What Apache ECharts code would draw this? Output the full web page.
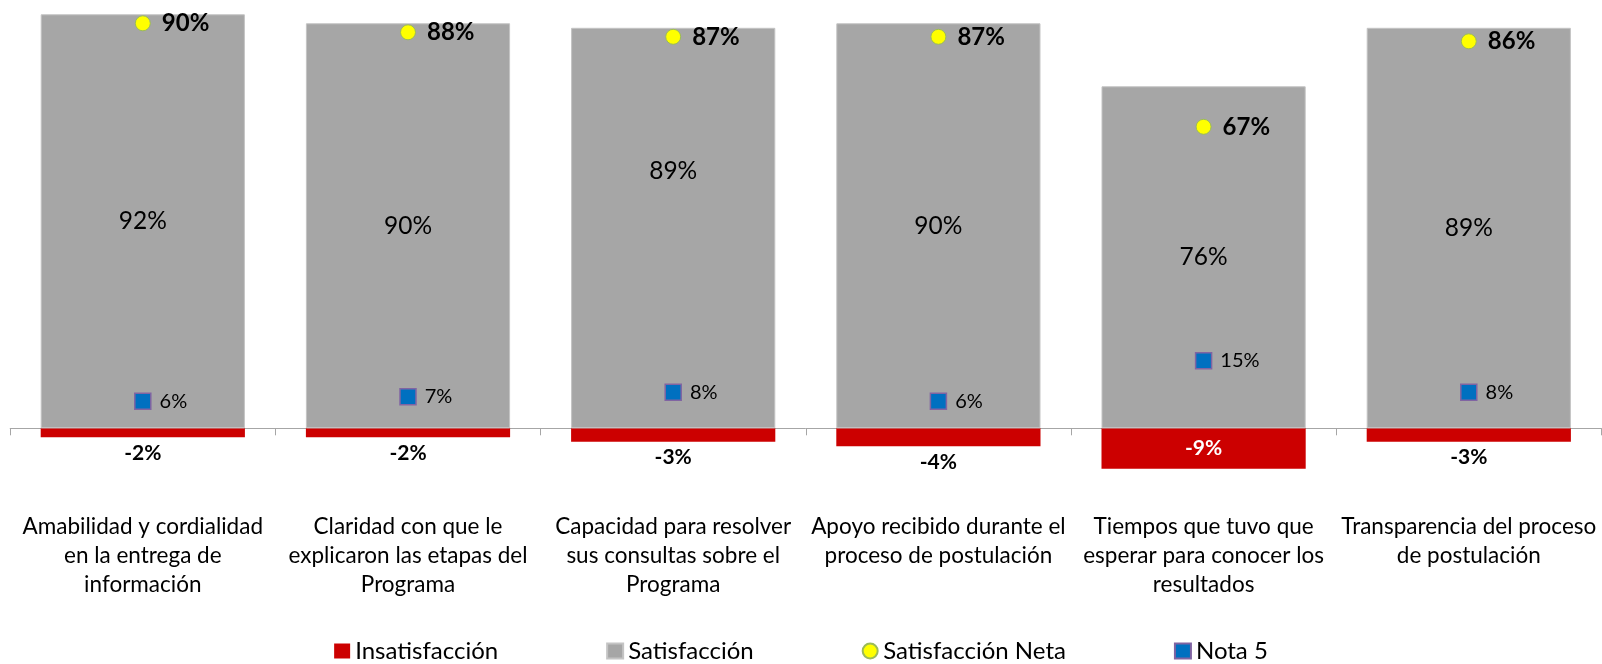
<!DOCTYPE html>
<html>
<head>
<meta charset="utf-8">
<script src="https://cdn.jsdelivr.net/npm/echarts@6/dist/echarts.min.js"></script>
<style>
  html, body { margin: 0; padding: 0; background: #fff; }
  #main { width: 1602px; height: 664px; }
</style>
</head>
<body>
<div id="main"></div>
<script>
// categorias (con los saltos de linea del grafico original)
const categories = [
  'Amabilidad y cordialidad\nen la entrega de\ninformación',
  'Claridad con que le\nexplicaron las etapas del\nPrograma',
  'Capacidad para resolver\nsus consultas sobre el\nPrograma',
  'Apoyo recibido durante el\nproceso de postulación',
  'Tiempos que tuvo que\nesperar para conocer los\nresultados',
  'Transparencia del proceso\nde postulación'
]
const insatisfaccion = [-2, -2, -3, -4, -9, -3]
const satisfaccion = [92, 90, 89, 90, 76, 89]
const satisfaccionNeta = [90, 88, 87, 87, 67, 86]
const nota5 = [6, 7, 8, 6, 15, 8]

const FONT = 'Lato, Carlito, Calibri, sans-serif'
const pct = p => p.value + '%'

const chart = echarts.init(document.getElementById('main'))

const option = {
  animation: false,
  textStyle: { fontFamily: FONT },
  grid: { left: 10.2, right: 0.6, top: 0.8, height: 472.5 },
  legend: {
    top: 634,
    left: 'center',
    itemWidth: 16,
    itemHeight: 15,
    itemGap: 108,
    textStyle: { fontSize: 24, color: '#000', fontFamily: FONT },
    data: [
      { name: 'Insatisfacción', icon: 'rect' },
      { name: 'Satisfacción', icon: 'rect' },
      { name: 'Satisfacción Neta', icon: 'circle' },
      { name: 'Nota 5', icon: 'rect' }
    ]
  },
  xAxis: {
    type: 'category',
    data: categories,
    axisLine: { onZero: true, lineStyle: { color: '#a6a6a6', width: 1 } },
    axisTick: { show: true, length: 7, interval: 0, lineStyle: { color: '#a6a6a6' } },
    axisLabel: {
      interval: 0,
      margin: 39,
      fontSize: 22.5,
      lineHeight: 29,
      color: '#000',
      fontFamily: FONT
    }
  },
  yAxis: {
    type: 'value',
    min: -10,
    max: 95,
    show: false,
    splitLine: { show: false }
  },
  series: [
    {
      name: 'Insatisfacción',
      type: 'bar',
      stack: 'total',
      barCategoryGap: '23%',
      itemStyle: { color: '#cc0000' },
      data: insatisfaccion.map(v => ({
        value: v,
        // la barra grande lleva la etiqueta dentro, en blanco
        label: Math.abs(v) >= 5
          ? { position: 'inside', color: '#fff' }
          : { position: 'bottom', distance: 5, color: '#000' }
      })),
      label: {
        show: true,
        formatter: pct,
        fontSize: 21,
        fontWeight: 'bold',
        fontFamily: FONT
      }
    },
    {
      name: 'Satisfacción',
      type: 'bar',
      stack: 'total',
      barCategoryGap: '23%',
      itemStyle: { color: '#a6a6a6', borderColor: '#c4c4c4', borderWidth: 1 },
      data: satisfaccion.map((v, i) => (
        i === 2 ? { value: v, label: { offset: [0, -57] } } : v
      )),
      label: {
        show: true,
        position: 'inside',
        formatter: pct,
        fontSize: 24.5,
        color: '#000',
        fontFamily: FONT
      }
    },
    {
      name: 'Satisfacción Neta',
      type: 'scatter',
      symbol: 'circle',
      symbolSize: 15,
      z: 5,
      itemStyle: { color: '#ffff00', borderColor: '#9bbb59', borderWidth: 1, opacity: 1 },
      data: satisfaccionNeta,
      label: {
        show: true,
        position: 'right',
        distance: 11,
        formatter: pct,
        fontSize: 24,
        fontWeight: 'bold',
        color: '#000',
        fontFamily: FONT
      }
    },
    {
      name: 'Nota 5',
      type: 'scatter',
      symbol: 'rect',
      symbolSize: 16,
      z: 5,
      itemStyle: { color: '#0070c0', borderColor: '#8064a2', borderWidth: 1.5, opacity: 1 },
      data: nota5,
      label: {
        show: true,
        position: 'right',
        distance: 8,
        formatter: pct,
        fontSize: 20,
        color: '#000',
        fontFamily: FONT
      }
    }
  ]
}

chart.setOption(option)
</script>
</body>
</html>
